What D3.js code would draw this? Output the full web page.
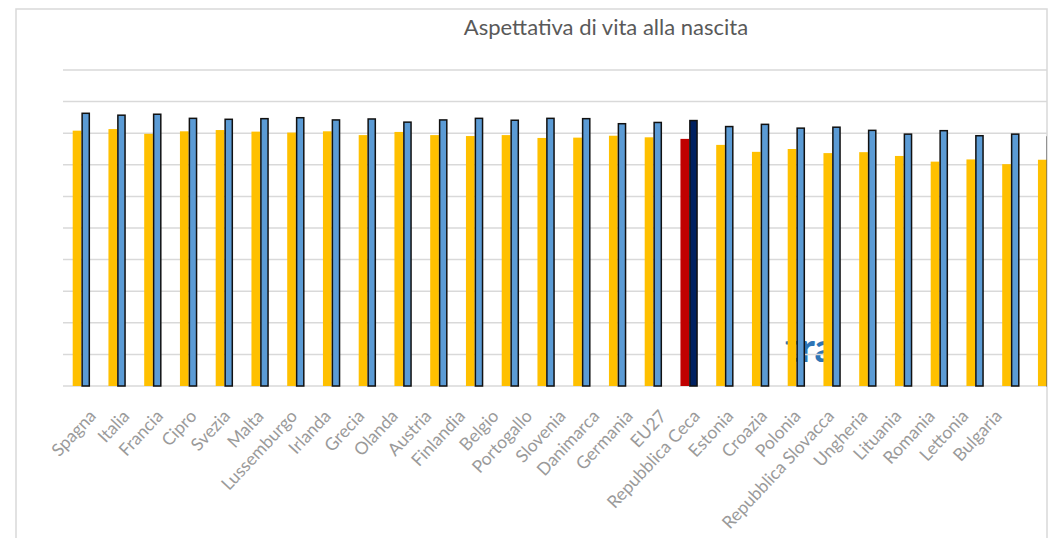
<!DOCTYPE html>
<html>
<head>
<meta charset="utf-8">
<script src="https://cdn.jsdelivr.net/npm/d3@7"></script>
<style>
  body { margin: 0; background: #fff; }
  svg { display: block; font-family: Lato, "Open Sans", sans-serif; }
</style>
</head>
<body>
<svg width="1049" height="538"></svg>
<script>
// paesi, nell'ordine del grafico
const paesi = ['Spagna', 'Italia', 'Francia', 'Cipro', 'Svezia', 'Malta', 'Lussemburgo',
  'Irlanda', 'Grecia', 'Olanda', 'Austria', 'Finlandia', 'Belgio', 'Portogallo', 'Slovenia',
  'Danimarca', 'Germania', 'EU27', 'Repubblica Ceca', 'Estonia', 'Croazia', 'Polonia',
  'Repubblica Slovacca', 'Ungheria', 'Lituania', 'Romania', 'Lettonia', 'Bulgaria'];

// anni di vita attesi
const uomini = [80.8, 81.3, 79.8, 80.6, 81.0, 80.5, 80.2, 80.6, 79.4, 80.4, 79.4, 79.1, 79.4,
  78.5, 78.6, 79.2, 78.7, 78.2, 76.3, 74.1, 75.0, 73.7, 74.0, 72.8, 71.0, 71.7, 70.2, 71.6];
const donne = [86.3, 85.7, 86.0, 84.7, 84.4, 84.6, 84.9, 84.2, 84.5, 83.5, 84.2, 84.7, 84.1,
  84.7, 84.6, 83.0, 83.4, 84.0, 82.1, 82.8, 81.6, 81.9, 80.9, 79.7, 80.8, 79.2, 79.7, 78.8];

const yTicks = [0, 10, 20, 30, 40, 50, 60, 70, 80, 90, 100];

const serie = ['uomini', 'donne'];
const dati = paesi.map((p, i) => ({ paese: p, uomini: uomini[i], donne: donne[i] }));

const svg = d3.select('svg');

// cornice del grafico
svg.append('rect')
  .attr('x', 16).attr('y', 9)
  .attr('width', 1031).attr('height', 540)
  .attr('fill', 'none')
  .attr('stroke', '#d9d9d9')
  .attr('stroke-width', 1.5);

svg.append('text')
  .attr('x', 606).attr('y', 35)
  .attr('text-anchor', 'middle')
  .attr('font-size', 22)
  .attr('fill', '#595959')
  .text('Aspettativa di vita alla nascita');

const x0 = d3.scaleBand()
  .domain(paesi)
  .range([63.5, 63.5 + 35.75 * paesi.length]);

const x1 = d3.scaleBand()
  .domain(serie)
  .range([0, x0.bandwidth()])
  .paddingOuter(1.06);

const y = d3.scaleLinear()
  .domain([0, 100])
  .range([386, 70]);

// scala separata per le etichette (più strette delle barre)
const xLab = d3.scalePoint()
  .domain(paesi)
  .range([97, 1003]);

svg.append('clipPath').attr('id', 'scritta')
  .append('rect').attr('x', 780).attr('y', 320).attr('width', 45).attr('height', 60);

// resto di testo blu dietro alle barre
svg.append('text')
  .attr('clip-path', 'url(#scritta)')
  .attr('x', 785).attr('y', 362)
  .attr('font-size', 40)
  .attr('font-weight', 'bold')
  .attr('fill', '#2e75b6')
  .text('tra');

// griglia
svg.append('g')
  .selectAll('line')
  .data(yTicks)
  .join('line')
  .attr('x1', 63).attr('x2', 1047)
  .attr('y1', d => y(d)).attr('y2', d => y(d))
  .attr('stroke', '#d9d9d9')
  .attr('stroke-width', 1.5);

svg.append('clipPath').attr('id', 'area')
  .append('rect').attr('x', 0).attr('y', 0).attr('width', 1047).attr('height', 538);

const gruppi = svg.append('g')
  .attr('clip-path', 'url(#area)')
  .selectAll('g')
  .data(dati)
  .join('g')
  .attr('transform', d => `translate(${x0(d.paese)},0)`);

gruppi.selectAll('rect')
  .data(d => serie.map(s => ({ serie: s, valore: d[s], eu: d.paese === 'EU27' })))
  .join('rect')
  .attr('x', d => x1(d.serie) + (d.serie === 'donne' ? 0.75 : 0))
  .attr('width', d => x1.bandwidth() - (d.serie === 'donne' ? 1.5 : 0))
  .attr('y', d => y(d.valore))
  .attr('height', d => y(0) - y(d.valore))
  .attr('fill', d => d.serie === 'uomini' ? (d.eu ? '#c00000' : '#ffc000') : (d.eu ? '#002060' : '#5b9bd5'))
  .attr('stroke', d => d.serie === 'donne' ? '#111' : 'none')
  .attr('stroke-width', 1.5);

// etichette ruotate
svg.append('g')
  .selectAll('text')
  .data(paesi)
  .join('text')
  .attr('x', d => xLab(d))
  .attr('y', 417)
  .attr('text-anchor', 'end')
  .attr('transform', d => `rotate(-47,${xLab(d)},417)`)
  .attr('font-size', 17.5)
  .attr('fill', '#9a9a9a')
  .text(d => d);
</script>
</body>
</html>
